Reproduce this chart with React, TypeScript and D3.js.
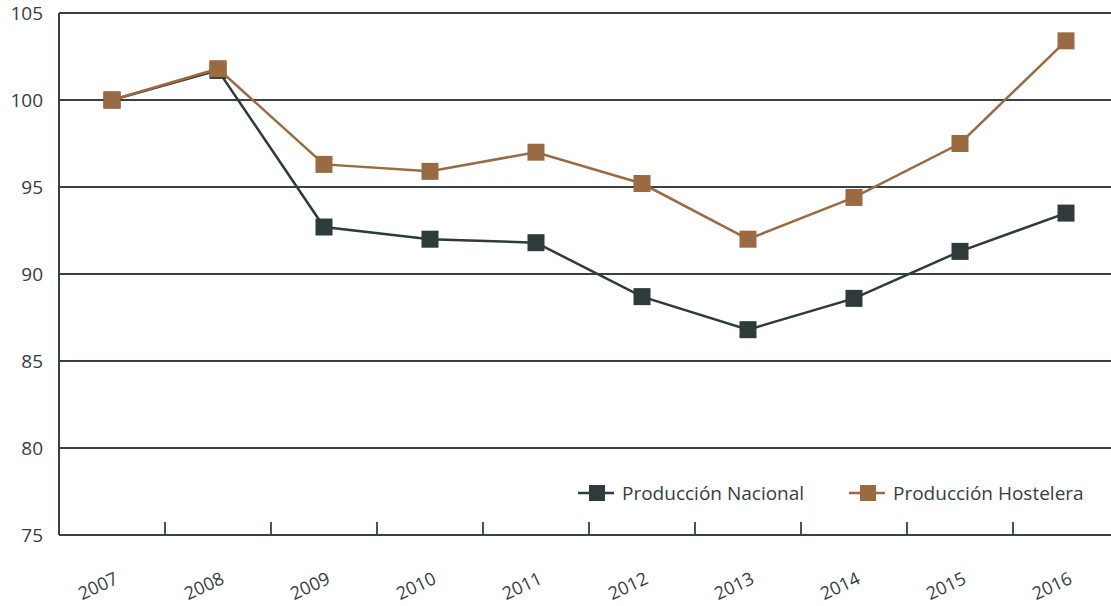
import React, { useEffect, useRef } from "react";
import * as d3 from "d3";

const years = ["2007", "2008", "2009", "2010", "2011", "2012", "2013", "2014", "2015", "2016"];
const nacional = [100, 101.7, 92.7, 92.0, 91.8, 88.7, 86.8, 88.6, 91.3, 93.5];
const hostelera = [100, 101.8, 96.3, 95.9, 97.0, 95.2, 92.0, 94.4, 97.5, 103.4];
const yTicks = [75, 80, 85, 90, 95, 100, 105];

const series = [
  { name: "Producción Nacional", values: nacional, color: "#2f3a3b" },
  { name: "Producción Hostelera", values: hostelera, color: "#9a6b43" },
];

const App = () => {
  const svgRef = useRef<SVGSVGElement>(null);

  useEffect(() => {
    const width = 1111;
    const height = 606;
    const left = 59;
    const top = 13;
    const bottom = 535;
    const axisColor = "#374244";
    const textColor = "#343e40";
    const font = "'Open Sans', 'Noto Sans', sans-serif";

    const svg = d3.select(svgRef.current);
    svg.selectAll("*").remove();
    svg.attr("width", width).attr("height", height);

    const x = d3.scaleBand().domain(years).range([left, left + 1060]);
    const y = d3.scaleLinear().domain([75, 105]).range([bottom, top]);

    // gridlines
    svg
      .append("g")
      .selectAll("line")
      .data(yTicks.filter((t) => t > 75))
      .join("line")
      .attr("x1", left)
      .attr("x2", width)
      .attr("y1", (d) => y(d))
      .attr("y2", (d) => y(d))
      .attr("stroke", axisColor)
      .attr("stroke-width", 1.8);

    // y labels
    svg
      .append("g")
      .selectAll("text")
      .data(yTicks)
      .join("text")
      .attr("x", 43)
      .attr("y", (d) => y(d))
      .attr("dy", "0.35em")
      .attr("text-anchor", "end")
      .attr("font-family", font)
      .attr("font-size", 19)
      .attr("fill", textColor)
      .text((d) => d);

    // axes
    svg
      .append("line")
      .attr("x1", left)
      .attr("x2", left)
      .attr("y1", top)
      .attr("y2", bottom)
      .attr("stroke", axisColor)
      .attr("stroke-width", 2);
    svg
      .append("line")
      .attr("x1", left)
      .attr("x2", width)
      .attr("y1", bottom)
      .attr("y2", bottom)
      .attr("stroke", axisColor)
      .attr("stroke-width", 2);

    // tick marks at band edges
    svg
      .append("g")
      .selectAll("line")
      .data(years.slice(1))
      .join("line")
      .attr("x1", (d) => x(d)!)
      .attr("x2", (d) => x(d)!)
      .attr("y1", bottom - 13)
      .attr("y2", bottom)
      .attr("stroke", axisColor)
      .attr("stroke-width", 1.8);

    // x labels
    svg
      .append("g")
      .selectAll("text")
      .data(years)
      .join("text")
      .attr("transform", (d) => `translate(${x(d)! + x.bandwidth() / 2 - 14},${586}) rotate(-25)`)
      .attr("text-anchor", "middle")
      .attr("dy", "0.35em")
      .attr("font-family", font)
      .attr("font-size", 18)
      .attr("fill", textColor)
      .text((d) => d);

    const cx = (i: number) => x(years[i])! + x.bandwidth() / 2;
    const line = d3
      .line<number>()
      .x((_, i) => cx(i))
      .y((d) => y(d));

    const ms = 17;
    series.forEach((s) => {
      const g = svg.append("g");
      g.append("path")
        .datum(s.values)
        .attr("fill", "none")
        .attr("stroke", s.color)
        .attr("stroke-width", 2.5)
        .attr("d", line);
      g.selectAll("rect")
        .data(s.values)
        .join("rect")
        .attr("x", (_, i) => cx(i) - ms / 2)
        .attr("y", (d) => y(d) - ms / 2)
        .attr("width", ms)
        .attr("height", ms)
        .attr("fill", s.color);
    });

    // legend
    const legendX = [578, 849];
    const ly = 493;
    series.forEach((s, i) => {
      const g = svg.append("g").attr("transform", `translate(${legendX[i]},${ly})`);
      g.append("line")
        .attr("x1", 0)
        .attr("x2", 36)
        .attr("stroke", s.color)
        .attr("stroke-width", 2.5);
      g.append("rect")
        .attr("x", 11)
        .attr("y", -8)
        .attr("width", 16)
        .attr("height", 16)
        .attr("fill", s.color);
      g.append("text")
        .attr("x", 44)
        .attr("dy", "0.35em")
        .attr("font-family", font)
        .attr("font-size", 19)
        .attr("fill", textColor)
        .text(s.name);
    });
  }, []);

  return <svg ref={svgRef} style={{ position: "absolute", left: 0, top: 0 }}></svg>;
};

export default App;
